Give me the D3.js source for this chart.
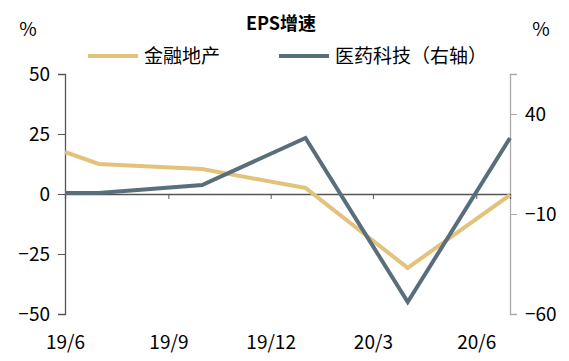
<!DOCTYPE html>
<html>
<head>
  <meta charset="utf-8">
  <title>EPS增速</title>
  <script src="https://d3js.org/d3.v7.min.js"></script>
  <style>
    body { margin: 0; background: #fff; }
    text { font-family: "Noto Sans CJK SC", "Noto Sans", sans-serif; fill: #000; }
  </style>
</head>
<body>
<div id="chart"></div>
<script>
// data
var months = ["2019-06", "2019-07", "2019-10", "2020-01", "2020-04", "2020-07"];
var finance = [17.5, 12.5, 10.4, 2.5, -30.8, -0.4];   // 金融地产, left axis
var pharma = [0.5, 0.5, 4.5, 28, -54, 28];             // 医药科技, right axis
var tickMonths = ["2019-06", "2019-09", "2019-12", "2020-03", "2020-06"];
var leftTicks = [50, 25, 0, -25, -50];
var rightTicks = [40, -10, -60];
var names = ["金融地产", "医药科技（右轴）"];
var colors = ["#e3c27c", "#586f7b"];

var W = 569, H = 361;
var margin = {top: 74, right: 59, bottom: 47, left: 65};
var width = W - margin.left - margin.right,
    height = H - margin.top - margin.bottom;

var parse = d3.timeParse("%Y-%m");
var fmt = d3.timeFormat("%y/%-m");

var svg = d3.select("#chart").append("svg")
    .attr("width", W).attr("height", H);

var g = svg.append("g")
    .attr("transform", "translate(" + margin.left + "," + margin.top + ")");

var x = d3.scaleTime()
    .domain([parse(months[0]), parse(months[months.length - 1])])
    .range([0, width]);
var yL = d3.scaleLinear().domain([-50, 50]).range([height, 0]);
var yR = d3.scaleLinear().domain([-60, 60]).range([height, 0]);

// left axis
var ax = g.append("g").call(d3.axisLeft(yL).tickValues(leftTicks).tickSize(7).tickPadding(8));
ax.select(".domain").attr("stroke", "#555").attr("stroke-width", 1.3);
ax.selectAll(".tick line").attr("stroke", "#555");
ax.selectAll("text").style("font-size", "19px");

// right axis
var ar = g.append("g").attr("transform", "translate(" + width + ",0)")
  .call(d3.axisRight(yR).tickValues(rightTicks).tickSize(7).tickPadding(8));
ar.select(".domain").attr("stroke", "#aaa").attr("stroke-width", 1.3);
ar.selectAll(".tick line").attr("stroke", "#aaa");
ar.selectAll("text").style("font-size", "19px");

// x axis on zero line
var axx = g.append("g").attr("transform", "translate(0," + yL(0) + ")")
  .call(d3.axisBottom(x).tickValues(tickMonths.map(parse)).tickFormat(fmt).tickSize(5).tickPadding(0));
axx.select(".domain").attr("stroke", "#555").attr("stroke-width", 1.3);
axx.selectAll(".tick line").attr("stroke", "#555");
axx.selectAll("text")
  .style("font-size", "19px")
  .attr("y", height - yL(0) + 22);

// lines
var lineL = d3.line().x(function(d, i) { return x(parse(months[i])); }).y(function(d) { return yL(d); });
var lineR = d3.line().x(function(d, i) { return x(parse(months[i])); }).y(function(d) { return yR(d); });

g.append("path").datum(finance)
  .attr("fill", "none").attr("stroke", colors[0]).attr("stroke-width", 4)
  .attr("d", lineL);
g.append("path").datum(pharma)
  .attr("fill", "none").attr("stroke", colors[1]).attr("stroke-width", 4)
  .attr("d", lineR);

// title and units
svg.append("text").attr("x", 281).attr("y", 30).attr("text-anchor", "middle")
  .style("font-size", "18px").style("font-weight", "bold").text("EPS增速");
svg.append("text").attr("x", 28).attr("y", 36).attr("text-anchor", "middle")
  .style("font-size", "19px").text("%");
svg.append("text").attr("x", 541).attr("y", 36).attr("text-anchor", "middle")
  .style("font-size", "19px").text("%");

// legend
var legX = [88, 279];
names.forEach(function(n, i) {
  var lg = svg.append("g").attr("transform", "translate(" + legX[i] + ",56)");
  lg.append("line").attr("x1", 0).attr("x2", 50).attr("y1", 0).attr("y2", 0)
    .attr("stroke", colors[i]).attr("stroke-width", 4);
  lg.append("text").attr("x", 56).attr("y", 7).style("font-size", "19px").text(n);
});
</script>
</body>
</html>
